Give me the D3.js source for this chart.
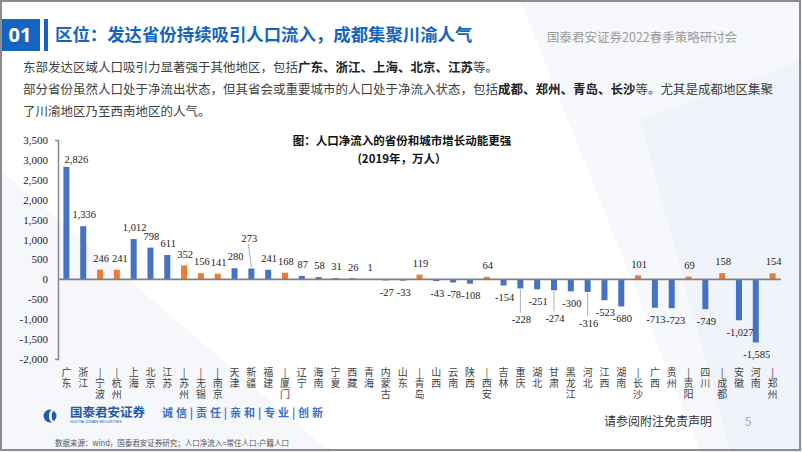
<!DOCTYPE html>
<html>
<head>
<meta charset="utf-8">
<script src="https://cdn.jsdelivr.net/npm/d3@7"></script>
<style>
  html, body { margin: 0; padding: 0; background: #fff; }
  svg { display: block; }
  .cat { writing-mode: vertical-rl; text-orientation: upright; }
</style>
</head>
<body>
<svg id="chart" width="802" height="452"></svg>
<script>
// 省份/城市
var categories = ["广东", "浙江", "宁波", "杭州", "上海", "北京", "江苏", "苏州", "无锡", "南京",
    "天津", "新疆", "福建", "厦门", "辽宁", "海南", "宁夏", "西藏", "青海", "内蒙古",
    "山东", "青岛", "山西", "云南", "陕西", "西安", "吉林", "重庆", "湖北", "甘肃",
    "黑龙江", "河北", "江西", "湖南", "长沙", "广西", "贵州", "贵阳", "四川", "成都",
    "安徽", "河南", "郑州"];
// 人口净流入（万人）
var values = [2826, 1336, 246, 241, 1012, 798, 611, 352, 156, 141,
    280, 273, 241, 168, 87, 58, 31, 26, 1, -27,
    -33, 119, -43, -78, -108, 64, -154, -228, -251, -274,
    -300, -316, -523, -680, 101, -713, -723, 69, -749, 158,
    -1027, -1585, 154];
// 城市（橙色）
var cities = ["宁波", "杭州", "苏州", "无锡", "南京", "厦门", "青岛", "西安", "长沙", "贵阳", "成都", "郑州"];
var yTicks = [-2000, -1500, -1000, -500, 0, 500, 1000, 1500, 2000, 2500, 3000, 3500];

// 标签微调 (dx, dy, 是否画引导线)
var labelNudge = {
    "广东": [9, 4, false],
    "杭州": [2, 0, false],
    "新疆": [-3, -19, true],
    "重庆": [0, 19, true],
    "甘肃": [0, 16, true],
    "河北": [0, 19, true],
    "贵州": [3, 0, false]
};

var data = categories.map(function (c, i) {
    return { name: c, value: values[i], city: cities.indexOf(c) >= 0 };
});

var svg = d3.select("#chart");
var cjk = "'Noto Sans CJK SC', 'Noto Sans', sans-serif";
var serif = "'Liberation Serif', 'DejaVu Serif', serif";
var blue = "#4472c4", orange = "#ed7d31";

// 背景浅色块
svg.append("rect").attr("width", 802).attr("height", 452).attr("fill", "#fff");
svg.append("path").attr("d", "M0,170 L0,452 L330,452 Z").attr("fill", "#f5f7fb");
svg.append("path").attr("d", "M520,0 L802,0 L802,452 L700,452 Z").attr("fill", "#f6f8fc");
svg.append("path").attr("d", "M640,120 L802,60 L802,452 L730,452 Z").attr("fill", "#f0f4fa");

// 标题栏
svg.append("rect").attr("x", 0).attr("y", 19).attr("width", 40).attr("height", 32).attr("fill", "#1565c0");
svg.append("text").attr("x", 20).attr("y", 42).attr("text-anchor", "middle")
    .attr("font-family", "'Open Sans', Roboto, sans-serif").attr("font-weight", "bold")
    .attr("font-size", 20).attr("fill", "#fff").text("01");
svg.append("rect").attr("x", 44).attr("y", 19).attr("width", 4).attr("height", 32).attr("fill", "#1565c0");
svg.append("text").attr("x", 55).attr("y", 41)
    .attr("font-family", cjk).attr("font-weight", "bold").attr("font-size", 17.4)
    .attr("fill", "#1565c0").text("区位：发达省份持续吸引人口流入，成都集聚川渝人气");
svg.append("text").attr("x", 547).attr("y", 42)
    .attr("font-family", cjk).attr("font-size", 12.5).attr("fill", "#9a9a9a")
    .text("国泰君安证券2022春季策略研讨会");

// 正文
var bodyLines = [
    [["东部发达区域人口吸引力显著强于其他地区，包括", false], ["广东、浙江、上海、北京、江苏", true], ["等。", false]],
    [["部分省份虽然人口处于净流出状态，但其省会或重要城市的人口处于净流入状态，包括", false], ["成都、郑州、青岛、长沙", true], ["等。尤其是成都地区集聚", false]],
    [["了川渝地区乃至西南地区的人气。", false]]
];
bodyLines.forEach(function (line, i) {
    var t = svg.append("text").attr("x", 23).attr("y", 72 + i * 22)
        .attr("font-family", cjk).attr("font-size", 12.5).attr("fill", "#404040");
    line.forEach(function (part) {
        t.append("tspan").attr("font-weight", part[1] ? "bold" : "normal")
            .attr("fill", part[1] ? "#222" : "#404040").text(part[0]);
    });
});

// 图表标题（两行）
svg.append("text").attr("x", 402).attr("y", 145).attr("text-anchor", "middle")
    .attr("font-family", cjk).attr("font-weight", "bold").attr("font-size", 11.5).attr("fill", "#111")
    .text("图：人口净流入的省份和城市增长动能更强");
svg.append("text").attr("x", 402).attr("y", 162.5).attr("text-anchor", "middle")
    .attr("font-family", cjk).attr("font-weight", "bold").attr("font-size", 11.5).attr("fill", "#111")
    .text("(2019年，万人）");

// 比例尺
var x = d3.scalePoint().domain(categories).range([58, 781]).padding(0.5);
var y = d3.scaleLinear().domain([-2000, 3500]).range([359, 140]);
var barW = 6;

var loc = d3.formatLocale({ decimal: ".", thousands: ",", grouping: [3], currency: ["", ""], minus: "-" });
var fmt = loc.format(",");

// y 轴
var yAxis = svg.append("g").attr("transform", "translate(58,0)")
    .call(d3.axisLeft(y).tickValues(yTicks).tickSizeInner(0).tickSizeOuter(3).tickPadding(10).tickFormat(fmt));
yAxis.select(".domain").attr("stroke", "#8a8a8a").attr("stroke-width", 1.5);
yAxis.selectAll("text").attr("font-family", serif).attr("font-size", 11).attr("fill", "#222");

// 柱子
svg.selectAll("rect.bar")
    .data(data)
    .enter()
    .append("rect")
    .attr("class", "bar")
    .attr("x", function (d) { return x(d.name) - barW / 2; })
    .attr("y", function (d) { return y(Math.max(0, d.value)); })
    .attr("width", barW)
    .attr("height", function (d) { return Math.abs(y(d.value) - y(0)); })
    .attr("fill", function (d) { return d.city ? orange : blue; });

// 零线
svg.append("line").attr("x1", 58).attr("x2", 781).attr("y1", y(0)).attr("y2", y(0))
    .attr("stroke", "#808080").attr("stroke-width", 1.8);

// 数值标签
function labelPos(d) {
    var n = labelNudge[d.name] || [0, 0, false];
    var base = d.value >= 0 ? y(d.value) - 11.5 : y(d.value) + 12;
    return { x: x(d.name) + 1 + n[0], y: base + n[1], line: n[2] };
}
data.forEach(function (d) {
    var p = labelPos(d);
    if (p.line) {
        var yEnd = d.value >= 0 ? y(d.value) - 1 : y(d.value) + 1;
        var yStart = d.value >= 0 ? p.y + 6 : p.y - 7;
        svg.append("line").attr("x1", p.x - 1).attr("y1", yStart).attr("x2", x(d.name)).attr("y2", yEnd)
            .attr("stroke", "#999").attr("stroke-width", 0.8);
    }
    svg.append("text").attr("x", p.x).attr("y", p.y).attr("dy", "0.35em")
        .attr("text-anchor", "middle").attr("font-family", serif).attr("font-size", 10.5)
        .attr("fill", "#222").text(fmt(d.value));
});

// 类别标签（竖排）
svg.selectAll("text.cat")
    .data(data)
    .enter()
    .append("text")
    .attr("class", "cat")
    .attr("x", function (d) { return x(d.name); })
    .attr("y", 367)
    .attr("font-family", cjk)
    .attr("font-size", 10)
    .attr("letter-spacing", 1)
    .attr("fill", "#444")
    .text(function (d) { return (d.city ? "|" : "") + d.name; });

// 页脚
svg.append("circle").attr("cx", 50).attr("cy", 416).attr("r", 6.5).attr("fill", "#1d5cae");
svg.append("ellipse").attr("cx", 52).attr("cy", 416).attr("rx", 3).attr("ry", 6).attr("fill", "#fff");
svg.append("ellipse").attr("cx", 53.5).attr("cy", 416).attr("rx", 1.8).attr("ry", 4.5).attr("fill", "#1d5cae");
svg.append("text").attr("x", 70).attr("y", 417).attr("font-family", cjk).attr("font-weight", "bold")
    .attr("font-size", 12.5).attr("fill", "#1d5cae").text("国泰君安证券");
svg.append("text").attr("x", 70).attr("y", 422.5).attr("font-family", "'Liberation Sans', sans-serif")
    .attr("font-size", 3.8).attr("fill", "#1d5cae").text("GUOTAI JUNAN SECURITIES");
svg.append("text").attr("x", 162).attr("y", 417).attr("font-family", cjk).attr("font-weight", "bold")
    .attr("font-size", 11).attr("fill", "#3a6fc4").attr("textLength", 161)
    .text("诚 信 | 责 任 | 亲 和 | 专 业 | 创 新");
svg.append("text").attr("x", 55).attr("y", 446).attr("font-family", cjk)
    .attr("font-size", 7.5).attr("fill", "#555")
    .text("数据来源：wind，国泰君安证券研究；人口净流入=常住人口-户籍人口");
svg.append("text").attr("x", 658).attr("y", 426).attr("text-anchor", "middle").attr("font-family", cjk)
    .attr("font-size", 12).attr("fill", "#333").text("请参阅附注免责声明");
svg.append("text").attr("x", 748).attr("y", 426).attr("text-anchor", "middle").attr("font-family", cjk)
    .attr("font-size", 12).attr("fill", "#aaa").text("5");

// 外框
svg.append("rect").attr("x", 1).attr("y", 1).attr("width", 799).attr("height", 449)
    .attr("fill", "none").attr("stroke", "#8c8c8c").attr("stroke-width", 2);
</script>
</body>
</html>
